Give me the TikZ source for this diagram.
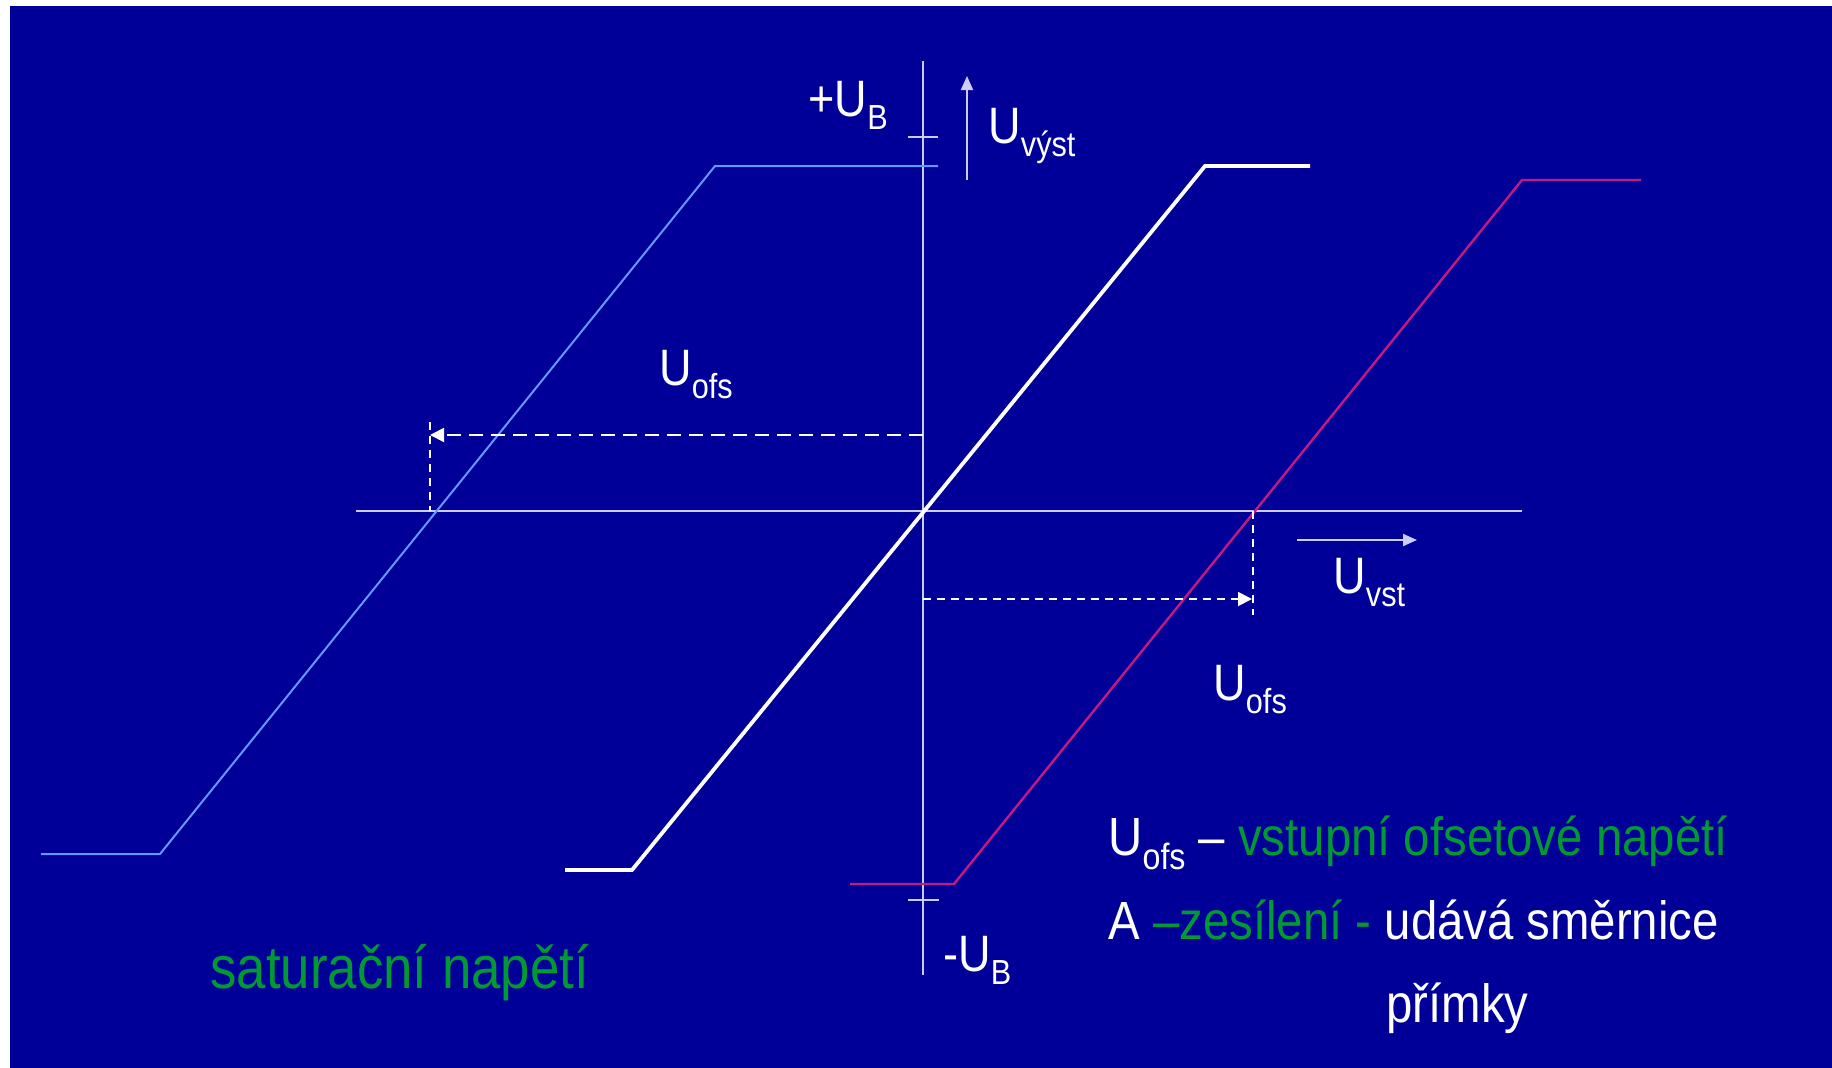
\documentclass[tikz,border=0pt]{standalone}
\usepackage{fontspec}
\setmainfont[FakeStretch=0.88]{Liberation Sans}
\usetikzlibrary{arrows.meta}
\definecolor{slideblue}{RGB}{0,0,153}
\definecolor{axisgray}{RGB}{204,204,255}
\definecolor{curveblue}{RGB}{102,153,255}
\definecolor{curvered}{RGB}{195,25,130}
\definecolor{textgreen}{RGB}{0,153,51}
\newcommand{\lsub}[1]{\raisebox{-0.26em}{\scalebox{0.68}{#1}}}

\begin{document}
\begin{tikzpicture}[
  x=0.5pt, y=-0.5pt,
  axis/.style={draw=axisgray, line width=1pt},
  tick/.style={draw=axisgray, line width=0.8pt},
  offs/.style={draw=white, line width=0.9pt, dash pattern=on 7pt off 4pt},
  offsfine/.style={draw=white, line width=0.9pt, dash pattern=on 4pt off 3pt},
  dir/.style={draw=axisgray, line width=1pt, -{Triangle[length=7pt, width=6pt]}},
  lbl/.style={inner sep=0pt, anchor=base west, text=white, font=\fontsize{25.6}{30}\selectfont},
  note/.style={inner sep=0pt, anchor=base west, text=white, font=\fontsize{26.9}{32}\selectfont}
]
  % slide background
  \useasboundingbox (0,0) rectangle (1832,1067);
  \fill[white] (0,0) rectangle (1832,1067);
  \fill[slideblue] (10,6) rectangle (1840,1075);

  % axes and ticks
  \coordinate (O) at (923,511);
  \draw[axis] (923,61) -- (923,975);
  \draw[axis] (356,511) -- (1522,511);
  \draw[tick] (908,137) -- (938,137);
  \draw[tick] (908,900) -- (939,900);

  % transfer characteristics
  \draw[curveblue, line width=1pt] (41,854) -- (160,854) -- (715,166) -- (938,166);
  \draw[white, line width=1.9pt] (565,870) -- (632,870) -- (1205,166) -- (1310,166);
  \draw[curvered, line width=1.2pt] (850,884) -- (954,884) -- (1522,180) -- (1641,180);

  % offset markers
  \coordinate (ofsL) at (430,435);
  \coordinate (ofsR) at (1252,599);
  \draw[offs, -{Triangle[length=7pt, width=7pt]}] (923,435) -- (ofsL);
  \draw[offsfine] (430,422) -- (430,511);
  \draw[offsfine, -{Triangle[length=7pt, width=7pt]}] (923,599) -- (ofsR);
  \draw[offsfine] (1253,511) -- (1253,615);

  % direction arrows
  \coordinate (outTail) at (967,180);
  \coordinate (outTip) at (967,76);
  \coordinate (inTail) at (1297,540);
  \coordinate (inTip) at (1417,540);
  \draw[dir] (outTail) -- (outTip);
  \draw[dir] (inTail) -- (inTip);

  % labels
  \node[lbl] (ubplus) at (808,116) {+U\lsub{B}};
  \node[lbl] (ubminus) at (943,971) {-U\lsub{B}};
  \node[lbl] (uout) at (988,143) {U\lsub{výst}};
  \node[lbl] (uin) at (1333,593) {U\lsub{vst}};
  \node[lbl] (ofsup) at (659,385) {U\lsub{ofs}};
  \node[lbl] (ofsdown) at (1213,700) {U\lsub{ofs}};

  % notes
  \node[note, font=\fontsize{30}{36}\selectfont] (satur) at (210,988) {\color{textgreen}saturační napětí};
  \node[note] (line1) at (1108,855) {U\lsub{ofs} – {\color{textgreen}vstupní ofsetové napětí}};
  \node[note] (line2) at (1108,939) {A {\color{textgreen}–zesílení -} udává směrnice};
  \node[note] (line3) at (1386,1022) {přímky};
\end{tikzpicture}
\end{document}
